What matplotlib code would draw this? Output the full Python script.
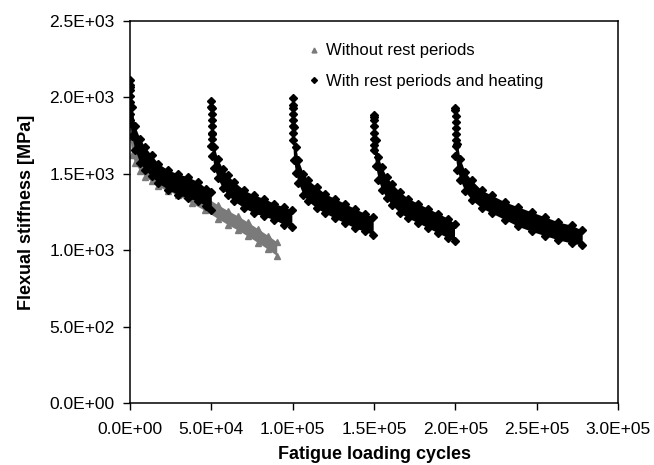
import matplotlib
matplotlib.use("Agg")
import matplotlib.pyplot as plt
from matplotlib.lines import Line2D
from matplotlib.ticker import FuncFormatter

plt.rcParams['font.family'] = ['Liberation Sans', 'DejaVu Sans']

# ---- data (cycles, stiffness band upper / lower, MPa) ----
# Without rest periods (grey)
nr_cycles = [0, 1000, 3100, 6100, 9200, 13300, 17400, 23600, 29700, 37900, 46100,
             54300, 60400, 66600, 72700, 78900, 85000, 90200]
nr_upper = [1910, 1810, 1710, 1630, 1580, 1540, 1505, 1470, 1440, 1395, 1350,
            1295, 1258, 1222, 1182, 1138, 1095, 1055]
nr_lower = [1740, 1624, 1570, 1519, 1482, 1450, 1417, 1388, 1358, 1308, 1260,
            1205, 1166, 1130, 1090, 1048, 1005, 965]

# With rest periods and heating (black) – five loading blocks
s1_cycles = [0, 1000, 3100, 6100, 9200, 13300, 17400, 23600, 29700, 35900, 42000, 47000, 50000]
s1_upper = [2070, 1940, 1810, 1730, 1676, 1621, 1567, 1523, 1500, 1478, 1447, 1403, 1380]
s1_lower = [1830, 1745, 1658, 1570, 1527, 1483, 1440, 1396, 1363, 1341, 1320, 1287, 1265]

s2_cycles = [50000, 50600, 51800, 53800, 56900, 60000, 64100, 70300, 76400, 82600, 88700, 94900, 99500]
s2_upper = [1940, 1763, 1676, 1600, 1534, 1490, 1447, 1392, 1360, 1338, 1305, 1283, 1261]
s2_lower = [1680, 1614, 1538, 1472, 1407, 1363, 1320, 1276, 1243, 1221, 1200, 1167, 1150]

s3_cycles = [100000, 100600, 101800, 103500, 106500, 109600, 114700, 119900, 126000, 132200, 138300, 144500, 149500]
s3_upper = [1950, 1807, 1676, 1589, 1501, 1458, 1414, 1370, 1338, 1305, 1272, 1240, 1218]
s3_lower = [1723, 1592, 1505, 1440, 1363, 1320, 1276, 1243, 1210, 1178, 1145, 1123, 1100]

s4_cycles = [150000, 151000, 152700, 154700, 157800, 160900, 166000, 171100, 177300, 183400, 189600, 195700, 199500]
s4_upper = [1870, 1720, 1610, 1545, 1480, 1436, 1381, 1338, 1305, 1272, 1240, 1207, 1174]
s4_lower = [1658, 1549, 1461, 1396, 1341, 1298, 1243, 1210, 1178, 1145, 1112, 1080, 1060]

s5_cycles = [200000, 201200, 202900, 206000, 210000, 216200, 222300, 230500, 238700, 246900, 255100, 263300, 271500, 278000]
s5_upper = [1930, 1698, 1600, 1512, 1458, 1392, 1360, 1316, 1283, 1250, 1218, 1185, 1163, 1130]
s5_lower = [1614, 1527, 1461, 1385, 1330, 1276, 1243, 1200, 1156, 1123, 1095, 1068, 1046, 1034]

# first readings of each block (the near-vertical column of points at each restart)
start_cycles = [0, 0, 300, 300, 300, 300, 300, 300,
                50000, 50200, 50200, 50200, 50200, 50300, 50300,
                100000, 100200, 100200, 100200, 100300, 100300,
                150000, 150200, 150200, 150200, 150300, 150300,
                200000, 200200, 200200, 200200, 200300, 200300, 200400]
start_values = [2114, 2080, 2050, 2010, 1970, 1930, 1890, 1850,
                1979, 1930, 1890, 1850, 1810, 1770, 1730,
                1994, 1930, 1890, 1850, 1810, 1770,
                1885, 1850, 1810, 1770, 1730, 1690,
                1918, 1880, 1840, 1800, 1760, 1720, 1680]

x_ticks = [0, 50000, 100000, 150000, 200000, 250000, 300000]
y_ticks = [0, 500, 1000, 1500, 2000, 2500]

legend_labels = ["Without rest periods", "With rest periods and heating"]
x_label = "Fatigue loading cycles"
y_label = "Flexual stiffness [MPa]"

# ---- drawing ----
GREY = "#7a7a7a"
BLACK = "#000000"

fig = plt.figure(figsize=(6.54, 4.65), dpi=100)
ax = fig.add_axes([130 / 654, 62 / 465, 488 / 654, 382 / 465])

# grey series
ax.fill_between(nr_cycles, nr_lower, nr_upper, color=GREY, linewidth=0, zorder=2)
ax.plot(nr_cycles, nr_upper, linestyle='none', marker='^', ms=4.5, color=GREY, zorder=2)
ax.plot(nr_cycles, nr_lower, linestyle='none', marker='^', ms=4.5, color=GREY, zorder=2)

# black series
for cyc, up, lo in [(s1_cycles, s1_upper, s1_lower), (s2_cycles, s2_upper, s2_lower),
                    (s3_cycles, s3_upper, s3_lower), (s4_cycles, s4_upper, s4_lower),
                    (s5_cycles, s5_upper, s5_lower)]:
    ax.fill_between(cyc, lo, up, color=BLACK, linewidth=0, zorder=3)
    ax.plot(cyc, up, linestyle='none', marker='D', ms=3.8, color=BLACK, zorder=3)
    ax.plot(cyc, lo, linestyle='none', marker='D', ms=3.8, color=BLACK, zorder=3)
ax.plot(start_cycles, start_values, linestyle='none', marker='D', ms=3.6, color=BLACK, zorder=3)

ax.set_xlim(x_ticks[0], x_ticks[-1])
ax.set_ylim(y_ticks[0], y_ticks[-1])
ax.set_xticks(x_ticks)
ax.set_yticks(y_ticks)
fmt = FuncFormatter(lambda v, p: f"{v:.1E}")
ax.xaxis.set_major_formatter(fmt)
ax.yaxis.set_major_formatter(fmt)
ax.tick_params(axis='y', direction='out', length=5, width=1.0, labelsize=12.5,
               colors='black', pad=6)
ax.tick_params(axis='x', direction='out', length=5, width=1.0, labelsize=12.5,
               colors='black', pad=9)
for s in ax.spines.values():
    s.set_linewidth(1.1)
    s.set_color('black')

ax.set_xlabel(x_label, fontsize=13, fontweight='bold', labelpad=6)
ax.set_ylabel(y_label, fontsize=13, fontweight='bold', labelpad=10)

handles = [Line2D([], [], linestyle='none', marker='^', ms=3.5, color=GREY),
           Line2D([], [], linestyle='none', marker='D', ms=3, color=BLACK)]
ax.legend(handles, legend_labels, loc='upper left', bbox_to_anchor=(0.343, 0.972),
          frameon=False, fontsize=12, handlelength=0.6, handletextpad=0.4,
          labelspacing=0.95, borderpad=0.2)

fig.savefig("out.png", dpi=100)
